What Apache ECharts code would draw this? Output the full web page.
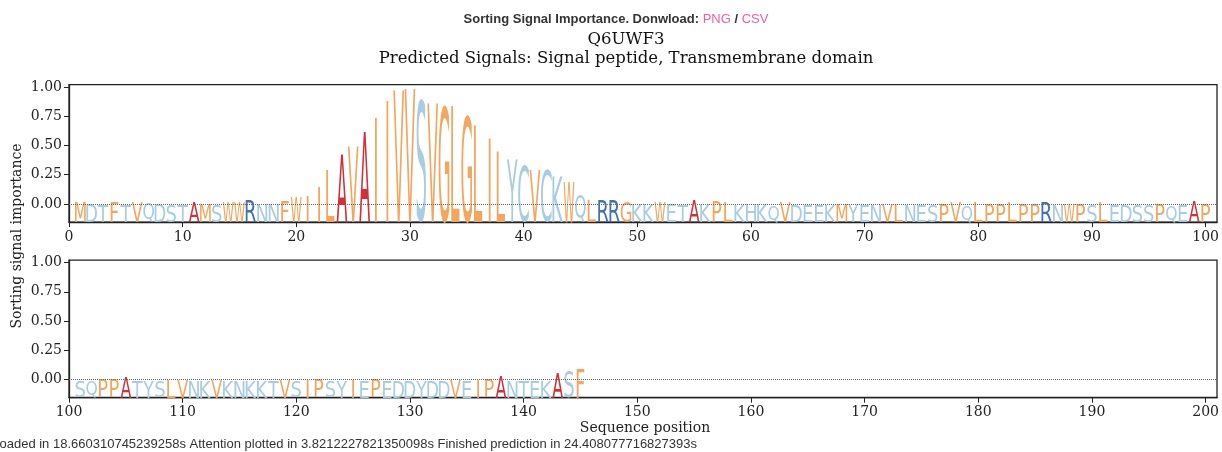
<!DOCTYPE html>
<html>
<head>
<meta charset="utf-8">
<title>Q6UWF3 sorting signal importance</title>
<script src="https://cdn.jsdelivr.net/npm/echarts@6/dist/echarts.min.js"></script>
<style>
    html, body { margin: 0; padding: 0; background: #fff; }
    #chart { width: 1222px; height: 452px; }
</style>
</head>
<body>
<div id="chart"></div>
<script>
// sequence of Q6UWF3, one residue per position (1..145)
var residues = ("MDTFTVQDSTAMSWWRNNFWIILAVAIIVVSVGLGLILYCVCKWQLRRGKKWETAKPLKHKQVDEEKMYENVLNESPVQLPPLPPRNWPSLEDSSPQEAP" +
    "SQPPATYSLVNKVKNKKTVSIPSYIEPEDDYDDVEIPANTEKASF").split("");

// sorting signal importance per position
var importance = [
    0.005, -0.005, -0.005, 0.005, -0.005, 0.005, 0.0, -0.005, 0.0, -0.005,
    0.01, -0.005, -0.005, 0.005, 0.005, 0.03, -0.005, -0.005, 0.025, 0.05,
    0.065, 0.145, 0.29, 0.42, 0.49, 0.61, 0.735, 0.88, 0.965, 0.975,
    0.9, 0.86, 0.85, 0.84, 0.77, 0.67, 0.56, 0.45, 0.375, 0.33,
    0.29, 0.3, 0.235, 0.19, 0.085, 0.032, 0.03, 0.03, 0.015, 0.0,
    0.0, 0.015, -0.005, -0.005, 0.03, -0.005, 0.02, 0.01, -0.01, -0.005,
    -0.005, -0.005, 0.005, -0.01, -0.01, -0.01, -0.01, 0.0, -0.005, -0.01,
    -0.01, 0.0, 0.0, -0.01, -0.01, -0.01, 0.005, 0.005, -0.01, 0.005,
    0.005, 0.005, 0.005, 0.005, 0.005, 0.01, -0.01, 0.0, 0.005, -0.01,
    0.005, -0.01, -0.01, -0.01, -0.01, 0.005, -0.01, -0.01, 0.02, 0.005,
    -0.015, -0.015, 0.0, 0.0, 0.02, -0.015, -0.015, -0.015, 0.0, -0.005,
    -0.015, -0.015, 0.0, -0.015, -0.015, -0.015, -0.015, -0.015, 0.0, -0.015,
    0.0, 0.0, -0.015, -0.015, -0.005, -0.015, 0.0, -0.015, -0.015, -0.015,
    -0.015, -0.015, -0.015, 0.0, -0.015, 0.0, 0.0, 0.028, -0.015, -0.015,
    -0.015, -0.015, 0.055, 0.075, 0.085
];

var xRanges = [[0, 101], [100, 201]];
var xTicks = [
    [0, 10, 20, 30, 40, 50, 60, 70, 80, 90, 100],
    [100, 110, 120, 130, 140, 150, 160, 170, 180, 190, 200]
];
var yTicks = [0, 0.25, 0.5, 0.75, 1];
var Y_MIN = -0.155, Y_MAX = 1.02;

var SERIF = '"DejaVu Serif", serif';
var SANS = '"Liberation Sans", Arial, sans-serif';
var LOGO_FONT = '"DejaVu Sans"';
var BASE_PX = 100;     // font size used to measure / draw glyphs
var LETTER_EM = 18;    // horizontal em size of a logo letter, px (clamped to the cell)

var hydrophobic = "MFVLIWPG";
var colors = { hydrophobic: "#f2a65e", polar: "#a8cde2", A: "#d3303a", R: "#4470b5" };

function colorOf(ch) {
    if (colors[ch]) return colors[ch];
    return hydrophobic.indexOf(ch) >= 0 ? colors.hydrophobic : colors.polar;
}

function extend(a, b) {
    for (var k in b) a[k] = b[k];
    return a;
}

// glyph bounds, measured once per letter
var measure = document.createElement("canvas").getContext("2d");
measure.font = BASE_PX + "px " + LOGO_FONT;
measure.textAlign = "center";
measure.textBaseline = "middle";
var glyphs = {};
function glyph(ch) {
    if (!glyphs[ch]) {
        var m = measure.measureText(ch);
        glyphs[ch] = {
            asc: m.actualBoundingBoxAscent,
            h: m.actualBoundingBoxAscent + m.actualBoundingBoxDescent,
            w: m.actualBoundingBoxLeft + m.actualBoundingBoxRight,
            off: (m.actualBoundingBoxRight - m.actualBoundingBoxLeft) / 2
        };
    }
    return glyphs[ch];
}

// each letter is stretched from the bottom of the axis up to its importance
function renderLetter(params, api) {
    var pos = api.value(0);
    var ch = residues[pos - 1];
    var top = api.coord([pos, api.value(1)]);
    var base = api.coord([pos, Y_MIN]);
    var unit = api.size([1, 0])[0];
    var g = glyph(ch);
    var sy = (base[1] - top[1]) / g.h;
    var sx = Math.min(LETTER_EM / BASE_PX, unit * 0.95 / g.w);
    return {
        type: "text",
        x: top[0] - g.off * sx,
        y: top[1] + g.asc * sy,
        scaleX: sx,
        scaleY: sy,
        style: {
            text: ch,
            font: BASE_PX + "px " + LOGO_FONT,
            fill: colorOf(ch),
            align: "center",
            verticalAlign: "middle"
        }
    };
}

var panelData = [[], []];
for (var i = 0; i < residues.length; i++) {
    var pos = i + 1;
    panelData[pos <= 100 ? 0 : 1].push([pos, importance[i]]);
}

var gridTops = [84.6, 260.2];
var tickFont = { color: "#222", fontFamily: SERIF, fontSize: 14 };

var option = {
    animation: false,
    grid: gridTops.map(function (t) {
        return { left: 69, right: 1, top: t, height: 137.5, show: true, borderColor: "#222", borderWidth: 1.3 };
    }),
    xAxis: [0, 1].map(function (k) {
        return {
            type: "value", gridIndex: k, min: xRanges[k][0], max: xRanges[k][1],
            axisLine: { show: true, onZero: false, lineStyle: { color: "#222", width: 1.3 } },
            axisTick: { show: true, length: 5, customValues: xTicks[k], lineStyle: { color: "#222" } },
            axisLabel: extend({ customValues: xTicks[k], margin: 8 }, tickFont),
            splitLine: { show: false }
        };
    }),
    yAxis: [0, 1].map(function (k) {
        return {
            type: "value", gridIndex: k, min: Y_MIN, max: Y_MAX,
            axisLine: { show: true, onZero: false, lineStyle: { color: "#222", width: 1.3 } },
            axisTick: { show: true, length: 5, customValues: yTicks, lineStyle: { color: "#222" } },
            axisLabel: extend({
                customValues: yTicks, margin: 7,
                formatter: function (v) { return v.toFixed(2); }
            }, tickFont),
            splitLine: { show: false }
        };
    }),
    series: [0, 1].map(function (k) {
        return {
            type: "custom", xAxisIndex: k, yAxisIndex: k,
            data: panelData[k],
            encode: { x: 0, y: 1 },
            renderItem: renderLetter,
            markLine: {
                silent: true, symbol: ["none", "none"], label: { show: false },
                lineStyle: { type: "dotted", color: "#666", width: 1 },
                data: [{ yAxis: 0 }]
            }
        };
    }),
    graphic: [
        {
            type: "text", x: 616, y: 19,
            style: {
                text: "Sorting Signal Importance. Donwload: {link|PNG} / {link|CSV}",
                font: "bold 13px " + SANS, fill: "#333", align: "center", verticalAlign: "middle",
                rich: { link: { font: "13px " + SANS, fill: "#ee5fa3" } }
            }
        },
        {
            type: "text", x: 626, y: 40,
            style: { text: "Q6UWF3", font: "16.5px " + SERIF, fill: "#111", align: "center", verticalAlign: "middle" }
        },
        {
            type: "text", x: 626, y: 59,
            style: { text: "Predicted Signals: Signal peptide, Transmembrane domain", font: "16.5px " + SERIF, fill: "#111", align: "center", verticalAlign: "middle" }
        },
        {
            type: "text", x: 17, y: 236, rotation: Math.PI / 2,
            style: { text: "Sorting signal importance", font: "14px " + SERIF, fill: "#222", align: "center", verticalAlign: "middle" }
        },
        {
            type: "text", x: 645, y: 428,
            style: { text: "Sequence position", font: "14px " + SERIF, fill: "#222", align: "center", verticalAlign: "middle" }
        },
        {
            type: "text", x: 697, y: 444,
            style: {
                text: "Loaded in 18.660310745239258s Attention plotted in 3.8212227821350098s Finished prediction in 24.408077716827393s",
                font: "13px " + SANS, fill: "#333", align: "right", verticalAlign: "middle"
            }
        }
    ]
};

var chart = echarts.init(document.getElementById("chart"));
chart.setOption(option);
</script>
</body>
</html>
